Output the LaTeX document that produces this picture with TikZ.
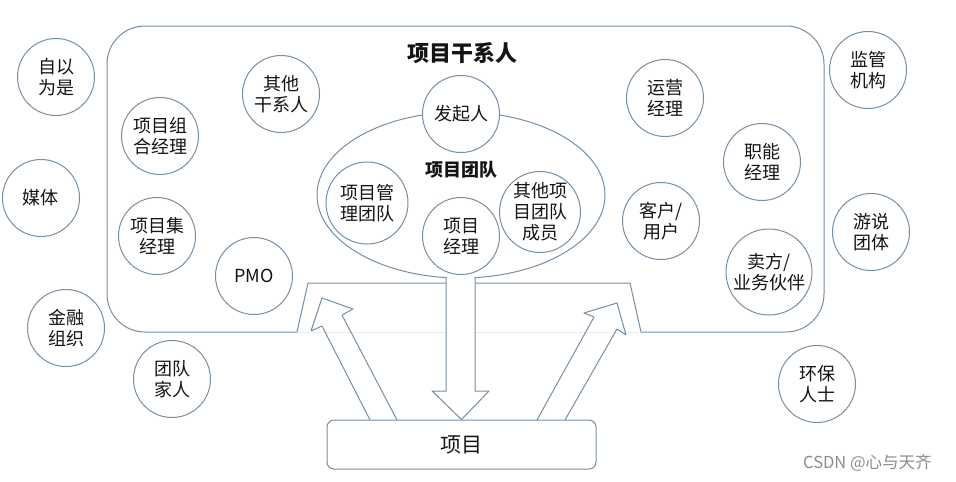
\documentclass[tikz,border=0pt]{standalone}
\usepackage{fontspec}
\setmainfont{Noto Sans CJK SC}
\usetikzlibrary{shapes.geometric}
\definecolor{edge}{RGB}{118,142,164}
\definecolor{ink}{RGB}{20,20,20}
\begin{document}
\begin{tikzpicture}[x=1pt,y=-1pt,
  bub/.style={circle,draw=edge,fill=white,line width=1pt,minimum size=#1,inner sep=0pt,align=center,font=\fontsize{18}{21}\selectfont,text=ink},
  bub/.default=77pt,
  frame/.style={draw=edge,line width=1pt,line join=round},
  title/.style={font=\fontsize{#1}{#1}\selectfont\bfseries,text=ink,inner sep=0pt},
]
\useasboundingbox (0,0) rectangle (956,482);
% stakeholder frame
\draw[frame,rounded corners=38pt] (297,332) -- (107,332) -- (107,26) -- (824,26) -- (824,332) -- (641,332);
\draw[frame] (641,332) -- (630,283) -- (308,283) -- (297,332);
\draw[black!8,line width=0.8pt] (297,332) -- (641,332);
% project team ellipse
\node[ellipse,draw=edge,line width=1pt,minimum width=288pt,minimum height=166pt,inner sep=0pt] (team) at (461,195) {};
% project box
\node[draw=edge,line width=1pt,rounded corners=7pt,minimum width=269pt,minimum height=49pt,inner sep=0pt,font=\fontsize{21}{24}\selectfont,text=ink] (p) at (461.5,444.5) {项目};
% down arrow
\fill[white] (446,277) -- (446,391) -- (432,391) -- (p.north) -- (489,391) -- (475,391) -- (475,277) -- cycle;
\draw[frame] (446,277) -- (446,391) -- (432,391) -- (p.north) -- (489,391) -- (475,391) -- (475,277);
% up arrows
\draw[frame] (370,420) -- (322,326) -- (311,331) -- (322,298) -- (353,309) -- (342,315) -- (397,420);
\draw[frame] (537,420) -- (594,317) -- (584,313) -- (617,303) -- (626,335) -- (617,329) -- (565,420);
% outside circles
\node[bub] (n1) at (56,77) {自以\\为是};
\node[bub] (n2) at (41,198) {媒体};
\node[bub] (n3) at (66,328) {金融\\组织};
\node[bub] (n4) at (172,379) {团队\\家人};
\node[bub] (n5) at (868,70) {监管\\机构};
\node[bub] (n6) at (871,232) {游说\\团体};
\node[bub] (n7) at (817,384) {环保\\人士};
% inside circles
\node[bub] (s1) at (281,94) {其他\\干系人};
\node[bub] (s2) at (160,136) {项目组\\合经理};
\node[bub] (s3) at (157,236) {项目集\\经理};
\node[bub] (s4) at (254,276) {PMO};
\node[bub] (s5) at (461,114) {发起人};
\node[bub=82pt] (s6) at (367,203) {项目管\\理团队};
\node[bub] (s7) at (461,236) {项目\\经理};
\node[bub=81pt] (s8) at (540,212) {其他项\\目团队\\成员};
\node[bub] (s9) at (665,98) {运营\\经理};
\node[bub] (s10) at (762,162) {职能\\经理};
\node[bub] (s11) at (661,221) {客户/\\用户};
\node[bub=86pt] (s12) at (769,272) {卖方/\\业务伙伴};
% titles
\node[title=22] (t1) at (462,53) {项目干系人};
\node[title=18] (t2) at (461,170) {项目团队};
% watermark
\node[anchor=west,inner sep=0pt,font=\fontsize{16.5}{16.5}\selectfont,text=black!45] (wm) at (803,463) {CSDN @心与天齐};
\end{tikzpicture}
\end{document}
